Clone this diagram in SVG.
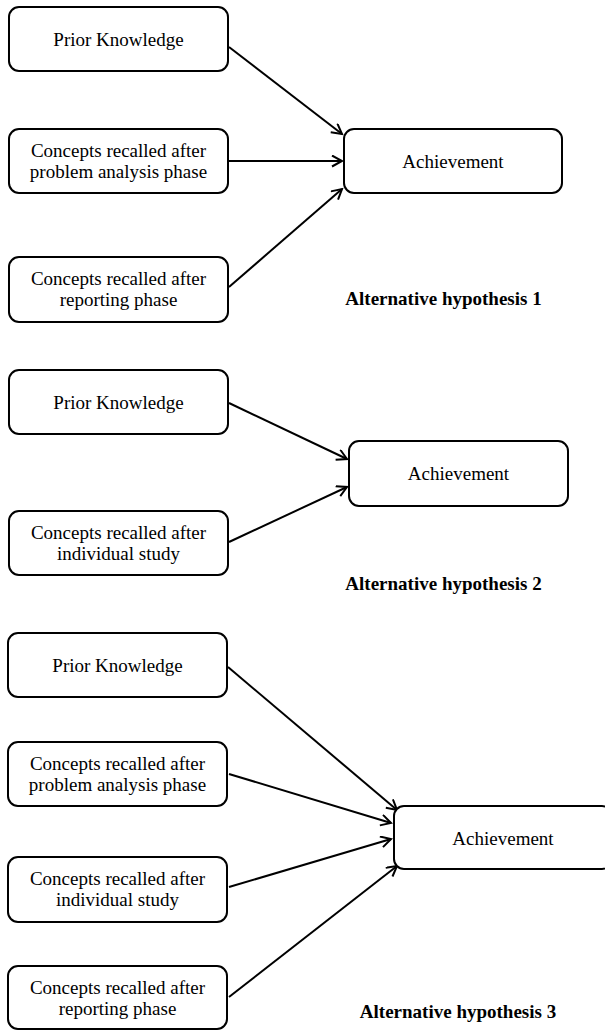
<svg xmlns="http://www.w3.org/2000/svg" width="605" height="1030" viewBox="0 0 605 1030">
<style>
.box{fill:#fff;stroke:#000;stroke-width:2}
.t{font-family:"Liberation Serif","Times New Roman",serif;font-size:19px;fill:#000;text-anchor:middle}
.h{font-family:"Liberation Serif","Times New Roman",serif;font-size:19px;font-weight:bold;fill:#000;text-anchor:middle}
.c{stroke:#000;stroke-width:2;fill:none;marker-end:url(#arr)}
</style>
<defs>
<marker id="arr" markerUnits="userSpaceOnUse" markerWidth="14" markerHeight="14" refX="11" refY="6" orient="auto">
<path d="M1,0.5 L11,6 L1,11.5" fill="none" stroke="#000" stroke-width="2"/>
</marker>
</defs>
<rect width="605" height="1030" fill="#fff"/>

<g id="connectors">
<line class="c" x1="229" y1="47" x2="342" y2="134"/>
<line class="c" x1="229" y1="161" x2="342" y2="161"/>
<line class="c" x1="229" y1="287" x2="342" y2="189"/>
<line class="c" x1="229" y1="403" x2="347" y2="459"/>
<line class="c" x1="229" y1="542" x2="347" y2="487"/>
<line class="c" x1="228" y1="667" x2="397" y2="810"/>
<line class="c" x1="229" y1="774" x2="391" y2="823"/>
<line class="c" x1="229" y1="887" x2="391" y2="839"/>
<line class="c" x1="229" y1="997" x2="397" y2="866"/>
</g>

<g id="h1-prior">
<rect class="box" x="9" y="7" width="219" height="64" rx="10"/>
<text class="t" x="118.5" y="46">Prior Knowledge</text>
</g>
<g id="h1-problem">
<rect class="box" x="9" y="129" width="219" height="64" rx="10"/>
<text class="t" x="118.5" y="157">Concepts recalled after</text>
<text class="t" x="118.5" y="178">problem analysis phase</text>
</g>
<g id="h1-reporting">
<rect class="box" x="9" y="257" width="219" height="65" rx="10"/>
<text class="t" x="118.5" y="285">Concepts recalled after</text>
<text class="t" x="118.5" y="306">reporting phase</text>
</g>
<g id="h1-achievement">
<rect class="box" x="344" y="129" width="218" height="64" rx="10"/>
<text class="t" x="453" y="168">Achievement</text>
</g>
<text class="h" x="443.5" y="305">Alternative hypothesis 1</text>

<g id="h2-prior">
<rect class="box" x="9" y="370" width="219" height="64" rx="10"/>
<text class="t" x="118.5" y="409">Prior Knowledge</text>
</g>
<g id="h2-individual">
<rect class="box" x="9" y="511" width="219" height="64" rx="10"/>
<text class="t" x="118.5" y="539">Concepts recalled after</text>
<text class="t" x="118.5" y="560">individual study</text>
</g>
<g id="h2-achievement">
<rect class="box" x="349" y="441" width="219" height="65" rx="10"/>
<text class="t" x="458.5" y="480">Achievement</text>
</g>
<text class="h" x="443.5" y="590">Alternative hypothesis 2</text>

<g id="h3-prior">
<rect class="box" x="8" y="633" width="219" height="64" rx="10"/>
<text class="t" x="117.5" y="672">Prior Knowledge</text>
</g>
<g id="h3-problem">
<rect class="box" x="8" y="742" width="219" height="64" rx="10"/>
<text class="t" x="117.5" y="770">Concepts recalled after</text>
<text class="t" x="117.5" y="791">problem analysis phase</text>
</g>
<g id="h3-individual">
<rect class="box" x="8" y="857" width="219" height="65" rx="10"/>
<text class="t" x="117.5" y="885">Concepts recalled after</text>
<text class="t" x="117.5" y="906">individual study</text>
</g>
<g id="h3-reporting">
<rect class="box" x="8" y="966" width="219" height="63" rx="10"/>
<text class="t" x="117.5" y="994">Concepts recalled after</text>
<text class="t" x="117.5" y="1015">reporting phase</text>
</g>
<g id="h3-achievement">
<rect class="box" x="394" y="806" width="218" height="63" rx="10"/>
<text class="t" x="503" y="845">Achievement</text>
</g>
<text class="h" x="458" y="1018">Alternative hypothesis 3</text>
</svg>
